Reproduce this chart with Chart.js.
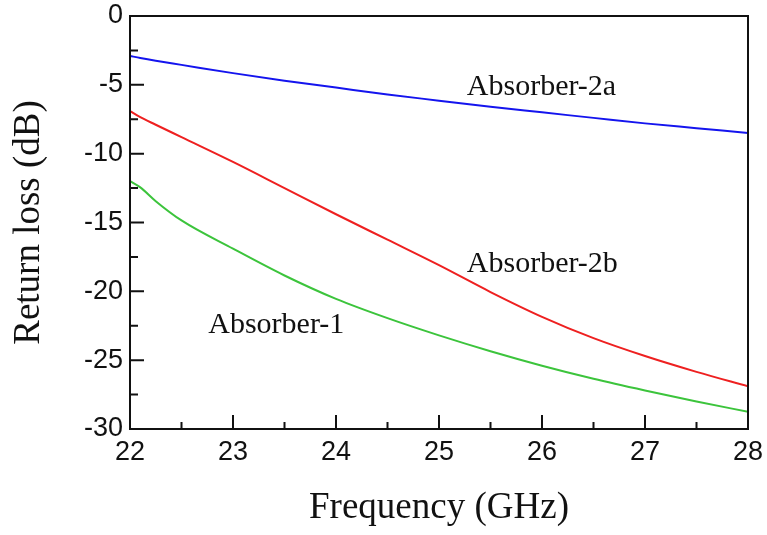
<!DOCTYPE html>
<html>
<head>
<meta charset="utf-8">
<script src="https://cdn.jsdelivr.net/npm/chart.js@4.4.0/dist/chart.umd.min.js"></script>
<style>
  html, body { margin: 0; padding: 0; background: #fff; }
  #wrap { width: 767px; height: 535px; }
</style>
</head>
<body>
<div id="wrap"><canvas id="rl" width="767" height="535"></canvas></div>
<script>
// frequency samples (GHz) and return loss (dB) for each absorber
const freqs      = [22, 22.1, 22.25, 22.5, 23, 23.5, 24, 24.5, 25, 25.5, 26, 26.5, 27, 27.5, 28];
const absorber2a = [-2.9, -3.05, -3.25, -3.55, -4.15, -4.7, -5.2, -5.7, -6.15, -6.6, -7.0, -7.4, -7.8, -8.15, -8.5];
const absorber2b = [-6.9, -7.35, -7.9, -8.8, -10.6, -12.5, -14.4, -16.25, -18.1, -20.05, -21.85, -23.4, -24.7, -25.85, -26.9];
const absorber1  = [-12.0, -12.45, -13.45, -14.85, -16.9, -18.85, -20.55, -21.95, -23.2, -24.35, -25.4, -26.35, -27.2, -28.0, -28.75];

const xTicks = [22, 23, 24, 25, 26, 27, 28];
const yTicks = [0, -5, -10, -15, -20, -25, -30];

// curve labels, anchored in data units (left edge, baseline)
const labelText = ['Absorber-2a', 'Absorber-2b', 'Absorber-1'];
const labelFreq = [25.27, 25.27, 22.76];
const labelDb   = [-5.77, -18.6, -23.06];

const pts = arr => arr.map((v, i) => ({ x: freqs[i], y: v }));

// frame + inward major/minor ticks on left and bottom, then curve labels
const framePlugin = {
  id: 'frame',
  afterDraw(chart) {
    const { ctx, chartArea: ca, scales: { x, y } } = chart;
    ctx.save();
    ctx.strokeStyle = '#111';
    ctx.lineWidth = 2;
    ctx.strokeRect(ca.left, ca.top, ca.right - ca.left, ca.bottom - ca.top);

    ctx.beginPath();
    xTicks.forEach((v, i) => {
      const px = x.getPixelForValue(v);
      ctx.moveTo(px, ca.bottom); ctx.lineTo(px, ca.bottom - 14);
      if (i < xTicks.length - 1) {
        const mx = x.getPixelForValue(v + 0.5);
        ctx.moveTo(mx, ca.bottom); ctx.lineTo(mx, ca.bottom - 7);
      }
    });
    yTicks.forEach((v, i) => {
      const py = y.getPixelForValue(v);
      ctx.moveTo(ca.left, py); ctx.lineTo(ca.left + 14, py);
      if (i < yTicks.length - 1) {
        const my = y.getPixelForValue(v - 2.5);
        ctx.moveTo(ca.left, my); ctx.lineTo(ca.left + 8, my);
      }
    });
    ctx.stroke();

    ctx.fillStyle = '#111';
    ctx.font = '30px "Liberation Serif", "Times New Roman", serif';
    ctx.textAlign = 'left';
    ctx.textBaseline = 'alphabetic';
    labelText.forEach((t, i) => {
      ctx.fillText(t, x.getPixelForValue(labelFreq[i]), y.getPixelForValue(labelDb[i]));
    });
    ctx.restore();
  }
};

const tickFont = { family: '"Liberation Sans", Arial, sans-serif', size: 27 };
const titleFont = { family: '"Liberation Serif", "Times New Roman", serif', size: 37 };

new Chart(document.getElementById('rl'), {
  type: 'line',
  data: {
    datasets: [
      { label: 'Absorber-2a', data: pts(absorber2a), borderColor: '#1414ee', borderWidth: 2 },
      { label: 'Absorber-2b', data: pts(absorber2b), borderColor: '#ee2020', borderWidth: 2 },
      { label: 'Absorber-1',  data: pts(absorber1),  borderColor: '#3cc43c', borderWidth: 2 }
    ]
  },
  options: {
    responsive: false,
    animation: false,
    events: [],
    elements: {
      point: { radius: 0 },
      line: { cubicInterpolationMode: 'monotone', fill: false }
    },
    layout: { padding: { top: 16, right: 19, left: 0, bottom: 0 } },
    plugins: { legend: { display: false }, tooltip: { enabled: false } },
    scales: {
      x: {
        type: 'linear',
        min: 22, max: 28,
        afterFit: s => { s.height = 106; s.paddingLeft = 0; s.paddingRight = 0; },
        afterBuildTicks: s => { s.ticks = xTicks.map(v => ({ value: v })); },
        grid: { display: false, drawTicks: false },
        border: { display: false },
        ticks: { font: tickFont, color: '#111', padding: 7 },
        title: { display: true, text: 'Frequency (GHz)', font: titleFont, color: '#111', padding: { top: 0, bottom: 5 } }
      },
      y: {
        min: -30, max: 0,
        afterFit: s => { s.width = 130; s.paddingTop = 0; s.paddingBottom = 0; },
        afterBuildTicks: s => { s.ticks = yTicks.map(v => ({ value: v })); },
        grid: { display: false, drawTicks: false },
        border: { display: false },
        ticks: { font: tickFont, color: '#111', padding: 7 },
        title: { display: true, text: 'Return loss (dB)', font: titleFont, color: '#111', padding: { top: 7, bottom: 0 } }
      }
    }
  },
  plugins: [framePlugin]
});
</script>
</body>
</html>
